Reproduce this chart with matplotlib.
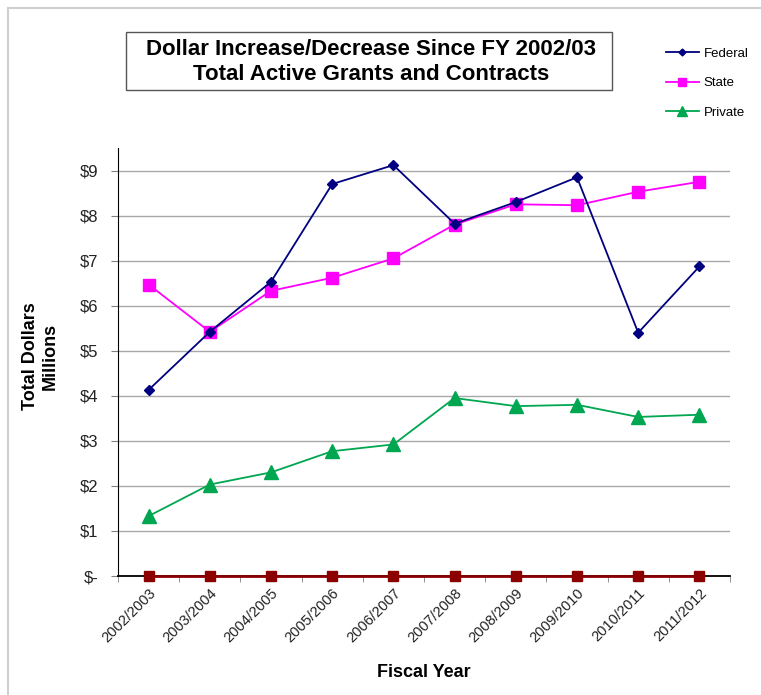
import matplotlib.pyplot as plt
from matplotlib.patches import Rectangle
from matplotlib.ticker import FixedLocator, FuncFormatter

plt.rcParams['font.family'] = ['Liberation Sans', 'DejaVu Sans']

years = ['2002/2003', '2003/2004', '2004/2005', '2005/2006', '2006/2007',
         '2007/2008', '2008/2009', '2009/2010', '2010/2011', '2011/2012']
federal = [4.13, 5.42, 6.53, 8.70, 9.12, 7.82, 8.30, 8.85, 5.40, 6.87]
state = [6.47, 5.42, 6.33, 6.62, 7.05, 7.80, 8.25, 8.23, 8.53, 8.75]
private = [1.33, 2.03, 2.30, 2.77, 2.92, 3.95, 3.77, 3.80, 3.53, 3.58]
other = [0, 0, 0, 0, 0, 0, 0, 0, 0, 0]

fig = plt.figure(figsize=(7.61, 6.95), dpi=100)
ax = fig.add_axes([118/761, 1-576/695, (730-118)/761, (576-148)/695])

x = range(len(years))
l1, = ax.plot(x, federal, color='#000080', marker='D', markersize=5, lw=1.3, label='Federal', zorder=4)
l2, = ax.plot(x, state, color='#FF00FF', marker='s', markersize=8, lw=1.3, label='State', zorder=3)
l3, = ax.plot(x, private, color='#00A650', marker='^', markersize=10, lw=1.3, label='Private', zorder=3)
ax.plot(x, other, color='#8B0000', marker='s', markersize=7, lw=2, zorder=5, clip_on=False)

ax.set_xlim(-0.5, 9.5)
ax.set_ylim(0, 9.5)
ax.set_yticks(range(10))
ax.yaxis.set_major_formatter(FuncFormatter(lambda v, p: '$-' if v == 0 else '$%d' % v))
ax.set_xticks(list(x))
ax.set_xticklabels(years, rotation=45, ha='right', rotation_mode='anchor', fontsize=10.5)
ax.xaxis.set_minor_locator(FixedLocator([i - 0.5 for i in range(11)]))
ax.tick_params(axis='x', which='major', length=0, pad=7)
ax.tick_params(axis='x', which='minor', length=4, direction='out', color='#808080')
ax.tick_params(axis='y', length=5, direction='out', labelsize=12, pad=9, color='#808080')
for lab in ax.get_xticklabels() + ax.get_yticklabels():
    lab.set_color('#222222')

ax.grid(axis='y', color='#A8A8A8', lw=1)
ax.set_axisbelow(True)
for s in ['top', 'right']:
    ax.spines[s].set_visible(False)
ax.spines['left'].set_color('black')
ax.spines['bottom'].set_color('black')
ax.spines['bottom'].set_linewidth(1.3)

ax.set_xlabel('Fiscal Year', fontsize=13, fontweight='bold', labelpad=14)
fig.text(40/761, 1-356/695, 'Total Dollars\nMillions', rotation=90, ha='center', va='center',
         fontsize=13, fontweight='bold', linespacing=1.2)

# title box
fig.patches.append(Rectangle((126/761, 1-90/695), (612-126)/761, (90-32)/695,
                             transform=fig.transFigure, fill=False, edgecolor='#555555', lw=1))
fig.text(371/761, 1-62/695, 'Dollar Increase/Decrease Since FY 2002/03\nTotal Active Grants and Contracts',
         ha='center', va='center', fontsize=16, fontweight='bold', linespacing=1.3)

# page border
fig.patches.append(Rectangle((8/761, -0.1), 1, 1.1 - 8/695, transform=fig.transFigure,
                             fill=False, edgecolor='#D0D0D0', lw=1.5))

fig.legend(handles=[l1, l2, l3], loc='upper left', bbox_to_anchor=(654/761, 1-36/695),
           frameon=False, fontsize=9.5, labelspacing=1.3, handlelength=2.5, handletextpad=0.35,
           markerscale=0.7)

fig.savefig('out.png', dpi=100)
